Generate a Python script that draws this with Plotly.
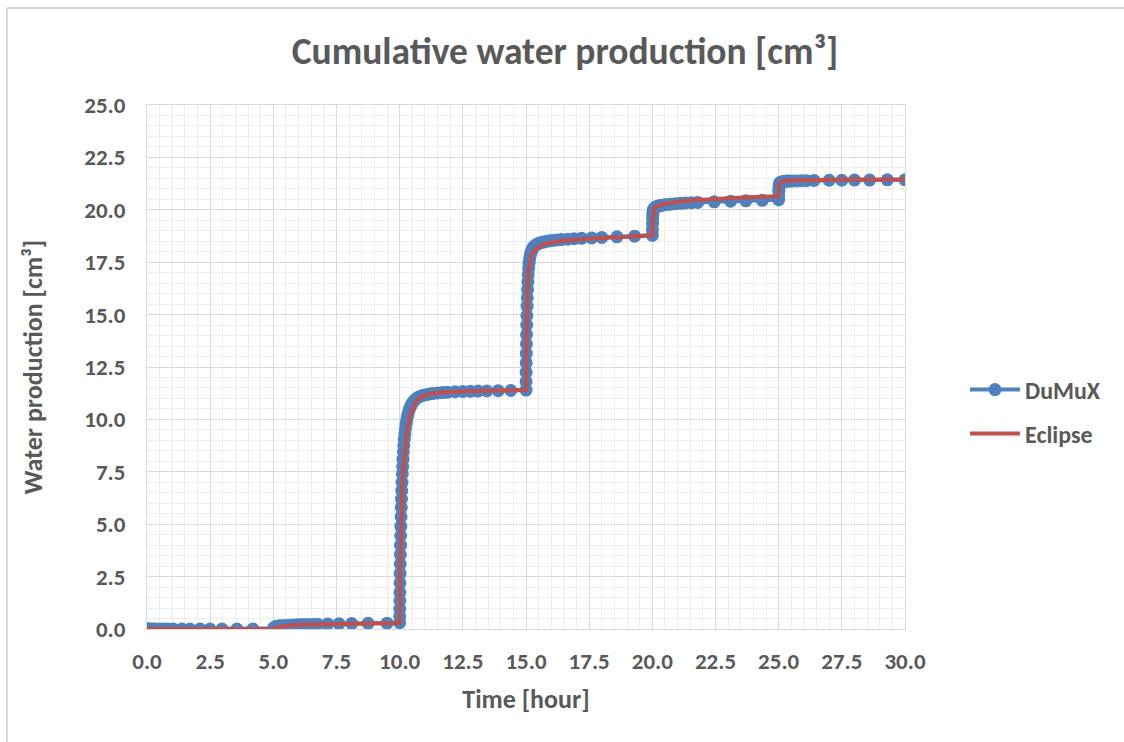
import plotly.graph_objects as go

# DuMuX simulation output: time [hour] and cumulative water production [cm3]
dumux_time = [
    0.0, 0.02, 0.05, 0.1, 0.17, 0.25, 0.35, 0.5, 0.65, 0.82, 1.03, 1.38, 1.7, 2.1, 2.49, 2.97, 3.56, 4.19,
    5.0, 5.01, 5.03, 5.06, 5.1, 5.15, 5.22, 5.3, 5.4, 5.52, 5.65, 5.8, 5.97, 6.15, 6.35, 6.55, 6.75,
    7.15, 7.6, 8.1, 8.75, 9.5,
    10.0, 10.002, 10.004, 10.007, 10.01, 10.014, 10.018, 10.023, 10.028, 10.034, 10.04, 10.047, 10.055,
    10.063, 10.072, 10.082, 10.093, 10.105, 10.118, 10.132, 10.148, 10.165, 10.184, 10.205, 10.228,
    10.253, 10.28, 10.31, 10.345, 10.385, 10.43, 10.48, 10.54, 10.61, 10.69, 10.78, 10.88, 11.0, 11.14,
    11.3, 11.5, 11.7, 11.9, 12.2, 12.5, 12.8, 13.1, 13.45, 13.9, 14.4,
    15.0, 15.002, 15.005, 15.008, 15.012, 15.017, 15.022, 15.028, 15.035, 15.043, 15.052, 15.062, 15.074,
    15.088, 15.104, 15.122, 15.143, 15.167, 15.195, 15.227, 15.264, 15.306, 15.355, 15.41, 15.475, 15.55,
    15.64, 15.75, 15.88, 16.03, 16.2, 16.4, 16.65, 16.9, 17.2, 17.6, 18.0, 18.6, 19.3,
    20.0, 20.003, 20.007, 20.012, 20.018, 20.026, 20.036, 20.05, 20.068, 20.09, 20.12, 20.16, 20.21, 20.27,
    20.35, 20.45, 20.57, 20.72, 20.9, 21.1, 21.3, 21.55, 21.8, 22.45, 23.1, 23.7, 24.35,
    25.0, 25.003, 25.007, 25.012, 25.02, 25.03, 25.045, 25.065, 25.09, 25.12, 25.16, 25.21, 25.27, 25.35,
    25.45, 25.57, 25.72, 25.9, 26.1, 26.4, 27.0, 27.5, 28.0, 28.6, 29.3, 30.0,
]
dumux_water = [
    0.0, 0.0, 0.0, 0.0, 0.0, 0.0, 0.0, 0.0, 0.0, 0.0, 0.0, 0.0, 0.0, 0.0, 0.0, 0.0, 0.0, 0.0,
    0.0, 0.03, 0.06, 0.09, 0.11, 0.13, 0.14, 0.15, 0.16, 0.17, 0.18, 0.19, 0.2, 0.21, 0.22, 0.22, 0.23,
    0.24, 0.25, 0.26, 0.27, 0.28,
    0.3, 0.6, 0.95, 1.35, 1.75, 2.2, 2.65, 3.1, 3.55, 4.0, 4.45, 4.9, 5.35,
    5.8, 6.2, 6.6, 7.0, 7.4, 7.75, 8.1, 8.45, 8.75, 9.05, 9.3, 9.55,
    9.78, 9.98, 10.16, 10.33, 10.48, 10.62, 10.74, 10.85, 10.94, 11.02, 11.08, 11.13, 11.17, 11.2,
    11.23, 11.26, 11.28, 11.3, 11.32, 11.33, 11.34, 11.35, 11.36, 11.37, 11.38,
    11.4, 11.8, 12.25, 12.7, 13.15, 13.6, 14.05, 14.5, 14.95, 15.4, 15.8, 16.2, 16.55,
    16.9, 17.2, 17.45, 17.65, 17.82, 17.96, 18.07, 18.16, 18.23, 18.29, 18.34, 18.38, 18.42,
    18.45, 18.48, 18.51, 18.53, 18.56, 18.58, 18.6, 18.62, 18.64, 18.66, 18.68, 18.71, 18.74,
    18.78, 19.05, 19.32, 19.56, 19.75, 19.88, 19.96, 20.02, 20.06, 20.09, 20.12, 20.15, 20.17, 20.19,
    20.21, 20.23, 20.25, 20.27, 20.29, 20.31, 20.33, 20.34, 20.35, 20.38, 20.41, 20.43, 20.45,
    20.48, 20.68, 20.88, 21.05, 21.17, 21.24, 21.28, 21.3, 21.32, 21.33, 21.34, 21.35, 21.36, 21.37,
    21.37, 21.38, 21.38, 21.39, 21.39, 21.4, 21.41, 21.41, 21.42, 21.42, 21.43, 21.43,
]

# Eclipse reference solution
eclipse_time = [
    0.0, 5.0, 5.1, 5.25, 5.5, 6.0, 7.0, 8.0, 9.0,
    10.0, 10.01, 10.04, 10.08, 10.12, 10.17, 10.23, 10.3, 10.38, 10.47, 10.57, 10.7, 10.85, 11.0, 11.3,
    11.7, 12.2, 13.0, 14.0,
    15.0, 15.01, 15.03, 15.06, 15.1, 15.15, 15.22, 15.3, 15.4, 15.55, 15.75, 16.0, 16.5, 17.0, 17.5,
    18.0, 19.0,
    20.0, 20.01, 20.03, 20.06, 20.1, 20.2, 20.4, 20.7, 21.0, 21.5, 22.0, 23.0, 24.0,
    25.0, 25.01, 25.04, 25.1, 25.2, 25.5, 26.0, 27.0, 28.0, 30.0,
]
eclipse_water = [
    0.0, 0.0, 0.07, 0.12, 0.16, 0.2, 0.23, 0.25, 0.27,
    0.29, 2.6, 4.5, 6.0, 7.1, 8.0, 8.8, 9.5, 10.0, 10.4, 10.7, 10.92, 11.07, 11.15, 11.24,
    11.29, 11.32, 11.35, 11.38,
    11.4, 13.2, 15.0, 16.3, 17.1, 17.55, 17.85, 18.03, 18.15, 18.27, 18.37, 18.44, 18.53, 18.58, 18.62,
    18.66, 18.72,
    18.78, 19.4, 19.8, 20.0, 20.1, 20.18, 20.26, 20.33, 20.38, 20.44, 20.49, 20.55, 20.61,
    20.65, 21.0, 21.25, 21.33, 21.37, 21.4, 21.42, 21.43, 21.44, 21.45,
]

FONT = "Calibri, Carlito, Lato, sans-serif"
TEXT = "#595959"
GRID = "#D9D9D9"
MINOR = "#EDEDED"

# plot-area geometry in pixels (used to place items outside the axes)
W, H = 1124, 742
L, R, T, B = 147, 905, 105, 629


def px_x(px):
    return (px - L) / (R - L)


def px_y(py):
    return (B - py) / (B - T)


fig = go.Figure()
fig.add_trace(go.Scatter(
    x=dumux_time, y=dumux_water, name="DuMuX", mode="lines+markers",
    line=dict(color="#4F81BD", width=4),
    marker=dict(color="#4F81BD", size=13, line=dict(width=0)),
    legend="legend", showlegend=True,
))
fig.add_trace(go.Scatter(
    x=eclipse_time, y=eclipse_water, name="Eclipse", mode="lines",
    line=dict(color="#C0504D", width=4),
    legend="legend2", showlegend=True,
))

axis_common = dict(
    showgrid=True, gridcolor=GRID, gridwidth=1,
    showline=True, linecolor=GRID, linewidth=1, mirror=True,
    zeroline=False, ticks="", tickformat=".1f",
    tickfont=dict(family=FONT, size=23, color=TEXT, weight="bold"),
    minor=dict(dtick=0.5, showgrid=True, gridcolor=MINOR, gridwidth=1),
)

fig.update_xaxes(
    range=[0, 30], dtick=2.5, tick0=0, ticklabelstandoff=11,
    title=dict(text="Time [hour]", font=dict(family=FONT, size=26, color=TEXT, weight="bold"), standoff=16),
    **axis_common,
)
fig.update_yaxes(
    range=[0, 25], dtick=2.5, tick0=0, ticklabelstandoff=16,
    title=dict(text="Water production [cm³]",
               font=dict(family=FONT, size=26, color=TEXT, weight="bold"), standoff=34),
    **axis_common,
)

legend_common = dict(
    xanchor="left", yanchor="middle", bgcolor="rgba(0,0,0,0)",
    font=dict(family=FONT, size=24, color=TEXT, weight="bold"),
    itemwidth=50,
)

fig.update_layout(
    width=W, height=H,
    margin=dict(l=L, r=W - R, t=T, b=H - B),
    paper_bgcolor="white", plot_bgcolor="white",
    showlegend=True,
    title=dict(
        text="Cumulative water production [cm³]",
        x=565 / W, xanchor="center", y=1 - 51 / H, yanchor="middle",
        font=dict(family=FONT, size=37.5, color=TEXT, weight="bold"),
    ),
    legend=dict(x=px_x(965), y=px_y(390), **legend_common),
    legend2=dict(x=px_x(965), y=px_y(434), **legend_common),
    shapes=[
        # chart-area border: top and left edges
        dict(type="line", xref="paper", yref="paper",
             x0=px_x(7), x1=px_x(1130), y0=px_y(8), y1=px_y(8),
             line=dict(color=GRID, width=2), layer="below"),
        dict(type="line", xref="paper", yref="paper",
             x0=px_x(7), x1=px_x(7), y0=px_y(8), y1=px_y(750),
             line=dict(color=GRID, width=2), layer="below"),
    ],
)

fig.write_html("out.html")
